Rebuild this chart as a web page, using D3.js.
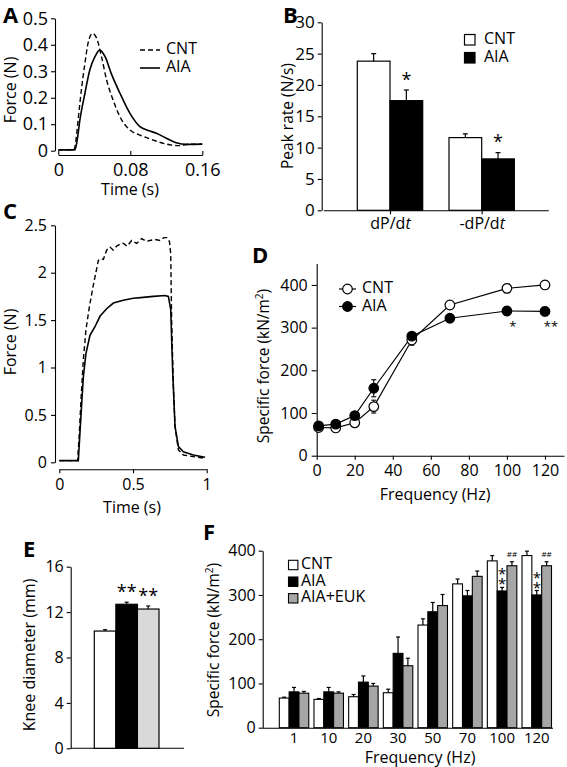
<!DOCTYPE html>
<html><head><meta charset="utf-8">
<script src="https://cdn.jsdelivr.net/npm/d3@7"></script>
<style>
body{margin:0;background:#fff}
text{font-family:"Open Sans",sans-serif;fill:#000}
</style>
</head><body>
<svg id="c" width="567" height="767"></svg>
<script>
// ---------- DATA ----------
// Panel A: twitch traces [time (s), force (N)]
const aCNT = [[0,0.003],[0.0174,0.003],[0.0196,0.04],[0.022,0.116],[0.026,0.24],[0.0296,0.33],[0.033,0.405],[0.038,0.443],[0.0426,0.425],[0.048,0.355],[0.0537,0.267],[0.061,0.19],[0.0685,0.128],[0.0796,0.078],[0.0907,0.059],[0.1056,0.04],[0.12,0.025],[0.135,0.019],[0.146,0.025],[0.16,0.025]];
const aAIA = [[0,0.003],[0.0185,0.003],[0.021,0.04],[0.024,0.116],[0.0296,0.217],[0.035,0.305],[0.0407,0.355],[0.046,0.38],[0.052,0.355],[0.059,0.29],[0.0685,0.217],[0.0796,0.141],[0.0907,0.091],[0.1,0.076],[0.109,0.066],[0.12,0.047],[0.131,0.03],[0.1426,0.024],[0.16,0.025]];
const aYTicks = [0,0.1,0.2,0.3,0.4,0.5];
const aXTicks = [0,0.08,0.16];

// Panel B: peak rate (N/s)
const bCats = ["dP/dt","-dP/dt"];
const bCNT = [23.8, 11.6];
const bCNTerr = [1.2, 0.6];
const bAIA = [17.5, 8.2];
const bAIAerr = [1.7, 1.0];
const bYTicks = [0,5,10,15,20,25,30];

// Panel C: tetanic traces [time (s), force (N)]
const cCNT = [[0,0.018],[0.124,0.018],[0.136,0.31],[0.147,0.66],[0.163,1.08],[0.181,1.40],[0.204,1.64],[0.231,1.87],[0.265,2.13],[0.282,2.15],[0.299,2.14],[0.322,2.24],[0.344,2.27],[0.365,2.24],[0.389,2.28],[0.41,2.3],[0.434,2.31],[0.46,2.28],[0.491,2.34],[0.525,2.31],[0.559,2.36],[0.59,2.33],[0.615,2.34],[0.65,2.35],[0.683,2.34],[0.71,2.37],[0.729,2.37],[0.747,2.33],[0.756,2.20],[0.762,1.50],[0.774,0.80],[0.785,0.38],[0.808,0.13],[0.842,0.077],[0.909,0.06],[0.989,0.042]];
const cAIA = [[0,0.018],[0.129,0.018],[0.14,0.31],[0.152,0.62],[0.163,0.90],[0.181,1.15],[0.208,1.34],[0.242,1.43],[0.276,1.54],[0.321,1.62],[0.367,1.68],[0.434,1.71],[0.502,1.73],[0.57,1.74],[0.638,1.75],[0.717,1.76],[0.74,1.75],[0.756,1.61],[0.769,0.97],[0.785,0.38],[0.808,0.165],[0.842,0.11],[0.909,0.077],[0.989,0.053]];
const cYTicks = [0,0.5,1,1.5,2,2.5];
const cXTicks = [0,0.5,1];

// Panel D: force-frequency (kN/m2)
const dFreq = [1,10,20,30,50,70,100,120];
const dCNT = [66,65,77,115,271,353,392,400];
const dCNTerr = [5,5,5,15,12,8,10,10];
const dAIA = [70,74,94,158,280,322,339,338];
const dAIAerr = [6,5,6,20,8,9,10,10];
const dYTicks = [0,100,200,300,400];
const dXTicks = [0,20,40,60,80,100,120];
const dStars = [[100,"*"],[120,"**"]];

// Panel E: knee diameter (mm)
const eGroups = ["CNT","AIA","AIA+EUK"];
const eVals = [10.33, 12.69, 12.27];
const eErr = [0.12, 0.18, 0.27];
const eYTicks = [0,4,8,12,16];

// Panel F: specific force (kN/m2)
const fFreq = ["1","10","20","30","50","70","100","120"];
const fCNT = [67,64,70,79,232,325,377,389];
const fCNTerr = [2,2,5,8,14,11,12,10];
const fAIA = [81,81,103,168,262,298,309,300];
const fAIAerr = [10,10,14,37,21,12,8,10];
const fEUK = [78,78,94,140,276,342,366,366];
const fEUKerr = [4,3,6,17,25,12,9,9];
const fYTicks = [0,100,200,300,400];
const fSeries = ["CNT","AIA","AIA+EUK"];

// ---------- DRAW ----------
const svg = d3.select("#c");
const BLACK = "#000", GRAY_E = "#d9d9d9", GRAY_F = "#a6a6a6";

function styleAxis(g, fs){
  g.selectAll("path.domain").attr("stroke", "#000").attr("stroke-width", 1.1);
  g.selectAll(".tick line").attr("stroke", "#000").attr("stroke-width", 1.1);
  g.selectAll(".tick text").attr("font-size", fs).attr("font-family", "Open Sans, sans-serif").attr("fill","#000");
  return g;
}
const numFmt = d => (d === 0 ? "0" : String(d));
function label(t, x, y, opt={}){
  const el = svg.append("text").attr("x", x).attr("y", y).text(t)
    .attr("font-size", opt.fs || 15).attr("text-anchor", opt.anchor || "middle")
    .attr("dominant-baseline", opt.base || "middle");
  if (opt.rot) el.attr("transform", `rotate(-90,${x},${y})`);
  return el;
}
function rotLabelSup(x, y, main, sup, tail, fs){
  const t = svg.append("text").attr("transform", `translate(${x},${y}) rotate(-90)`)
    .attr("text-anchor","middle").attr("dominant-baseline","middle").attr("font-size", fs);
  t.append("tspan").text(main);
  t.append("tspan").text(sup).attr("font-size", fs*0.65).attr("dy", -fs*0.35);
  t.append("tspan").text(tail).attr("dy", fs*0.35);
}
function panelLetter(t, x, y){
  svg.append("text").attr("x", x).attr("y", y).text(t)
    .attr("font-family", "Liberation Sans, Arial, sans-serif")
    .attr("font-weight", "bold").attr("font-size", 22);
}
function errBar(g, x, y1, y2, cap){
  g.append("line").attr("x1",x).attr("x2",x).attr("y1",y1).attr("y2",y2).attr("stroke","#000").attr("stroke-width",1.2);
  g.append("line").attr("x1",x-cap).attr("x2",x+cap).attr("y1",y2).attr("y2",y2).attr("stroke","#000").attr("stroke-width",1.2);
}

// ===== Panel A =====
{
  const x = d3.scaleLinear().domain([0,0.16]).range([58.3,202.3]);
  const y = d3.scaleLinear().domain([0,0.5]).range([150.7,18.3]);
  const g = svg.append("g");
  styleAxis(g.append("g").attr("transform","translate(55,0)")
    .call(d3.axisLeft(y).tickValues(aYTicks).tickFormat(numFmt).tickSize(4).tickSizeOuter(0).tickPadding(3)), 18);
  styleAxis(g.append("g").attr("transform","translate(0,155)")
    .call(d3.axisBottom(x).tickValues(aXTicks).tickFormat(numFmt).tickSize(-4).tickSizeOuter(0).tickPadding(8)), 18);
  const line = d3.line().x(d=>x(d[0])).y(d=>y(d[1])).curve(d3.curveMonotoneX);
  g.append("path").datum(aCNT).attr("d",line).attr("fill","none").attr("stroke","#000").attr("stroke-width",1.4).attr("stroke-dasharray","5,3");
  g.append("path").datum(aAIA).attr("d",line).attr("fill","none").attr("stroke","#000").attr("stroke-width",1.6);
  g.append("line").attr("x1",140).attr("x2",160).attr("y1",50).attr("y2",50).attr("stroke","#000").attr("stroke-width",1.4).attr("stroke-dasharray","5,3");
  g.append("line").attr("x1",140).attr("x2",160).attr("y1",68).attr("y2",68).attr("stroke","#000").attr("stroke-width",1.6);
  label("CNT",166,50,{anchor:"start",fs:16});
  label("AIA",166,68,{anchor:"start",fs:16});
  label("Force (N)",11.5,90,{rot:true,fs:16});
  label("Time (s)",130,191,{fs:16});
  panelLetter("A",3,23);
}

// ===== Panel B =====
{
  const y = d3.scaleLinear().domain([0,30]).range([210.3,22.3]);
  const x = d3.scalePoint().domain(bCats).range([323.35,548.35]).padding(0.727);
  const bw = 32.7;
  const g = svg.append("g");
  styleAxis(g.append("g").attr("transform","translate(321.7,0)")
    .call(d3.axisLeft(y).tickValues(bYTicks).tickFormat(numFmt).tickSize(4).tickSizeOuter(0).tickPadding(3)), 17);
  const xa = styleAxis(g.append("g").attr("transform","translate(0,210.3)")
    .call(d3.axisBottom(x).tickSize(4).tickSizeOuter(0).tickPadding(3)), 16);
  xa.selectAll(".tick text").each(function(d){
    const t = d3.select(this); t.text("");
    t.append("tspan").text(d.replace("dt","d"));
    t.append("tspan").text("t").attr("font-style","italic");
  });
  bCats.forEach((c,i)=>{
    const cx = x(c);
    g.append("rect").attr("x",cx-bw).attr("width",bw).attr("y",y(bCNT[i])).attr("height",y(0)-y(bCNT[i])).attr("fill","#fff").attr("stroke","#000").attr("stroke-width",1.2);
    g.append("rect").attr("x",cx).attr("width",bw).attr("y",y(bAIA[i])).attr("height",y(0)-y(bAIA[i])).attr("fill",BLACK).attr("stroke","#000").attr("stroke-width",1.2);
    errBar(g, cx-bw/2, y(bCNT[i]), y(bCNT[i]+bCNTerr[i]), 2.5);
    errBar(g, cx+bw/2, y(bAIA[i]), y(bAIA[i]+bAIAerr[i]), 2.5);
    label("*", cx+bw/2, y(bAIA[i]+bAIAerr[i])-9, {fs:18});
  });
  g.append("rect").attr("x",464.5).attr("y",34.5).attr("width",10.5).attr("height",10.5).attr("fill","#fff").attr("stroke","#000").attr("stroke-width",1.2);
  g.append("rect").attr("x",464.5).attr("y",52.5).attr("width",10.5).attr("height",10.5).attr("fill","#000").attr("stroke","#000").attr("stroke-width",1.2);
  label("CNT",484,40,{anchor:"start",fs:16});
  label("AIA",484,58,{anchor:"start",fs:16});
  label("Peak rate (N/s)",288.5,116,{rot:true,fs:15.5});
  panelLetter("B",283,23);
}

// ===== Panel C =====
{
  const x = d3.scaleLinear().domain([0,1]).range([59.3,206.7]);
  const y = d3.scaleLinear().domain([0,2.5]).range([462.3,225.3]);
  const g = svg.append("g");
  styleAxis(g.append("g").attr("transform","translate(55,0)")
    .call(d3.axisLeft(y).tickValues(cYTicks).tickFormat(numFmt).tickSize(4).tickSizeOuter(0).tickPadding(4)), 16);
  styleAxis(g.append("g").attr("transform","translate(0,469.3)")
    .call(d3.axisBottom(x).tickValues(cXTicks).tickFormat(numFmt).tickSize(4).tickSizeOuter(0).tickPadding(5)), 16);
  const line = d3.line().x(d=>x(d[0])).y(d=>y(d[1]));
  g.append("path").datum(cCNT).attr("d",line).attr("fill","none").attr("stroke","#000").attr("stroke-width",1.4).attr("stroke-dasharray","5,3");
  g.append("path").datum(cAIA).attr("d",line).attr("fill","none").attr("stroke","#000").attr("stroke-width",1.6);
  label("Force (N)",11.5,342,{rot:true,fs:16});
  label("Time (s)",132,509,{fs:16});
  panelLetter("C",3,219);
}

// ===== Panel D =====
{
  const x = d3.scaleLinear().domain([0,130]).range([316.7,564]);
  const y = d3.scaleLinear().domain([0,450]).range([455.7,263.6]);
  const g = svg.append("g");
  styleAxis(g.append("g").attr("transform","translate(316.7,0)")
    .call(d3.axisLeft(y).tickValues(dYTicks).tickFormat(numFmt).tickSize(5).tickSizeOuter(0).tickPadding(4)), 16);
  styleAxis(g.append("g").attr("transform","translate(0,455.7)")
    .call(d3.axisBottom(x).tickValues(dXTicks).tickFormat(numFmt).tickSize(4).tickSizeOuter(0).tickPadding(5)), 16);
  const series = [[dCNT,dCNTerr,"#fff"],[dAIA,dAIAerr,"#000"]];
  const line = d3.line().x((d,i)=>x(dFreq[i])).y(d=>y(d));
  series.forEach(([v])=>{
    g.append("path").datum(v).attr("d",line).attr("fill","none").attr("stroke","#000").attr("stroke-width",1.2);
  });
  series.forEach(([v,e])=>{
    v.forEach((d,i)=>{
      g.append("line").attr("x1",x(dFreq[i])).attr("x2",x(dFreq[i])).attr("y1",y(d-e[i])).attr("y2",y(d+e[i])).attr("stroke","#000").attr("stroke-width",1.1);
      [d-e[i],d+e[i]].forEach(b=>g.append("line").attr("x1",x(dFreq[i])-2.5).attr("x2",x(dFreq[i])+2.5).attr("y1",y(b)).attr("y2",y(b)).attr("stroke","#000").attr("stroke-width",1.1));
    });
  });
  series.forEach(([v,,fill])=>{
    g.selectAll(null).data(v).enter().append("circle")
      .attr("cx",(d,i)=>x(dFreq[i])).attr("cy",d=>y(d)).attr("r",4.8)
      .attr("fill",fill).attr("stroke","#000").attr("stroke-width",1.2);
  });
  dStars.forEach(([f,s])=>label(s, x(f)+6, 328, {fs:13}).attr("fill","#333"));
  g.append("line").attr("x1",339).attr("x2",356).attr("y1",289).attr("y2",289).attr("stroke","#000").attr("stroke-width",1.2);
  g.append("circle").attr("cx",347.5).attr("cy",289).attr("r",4.8).attr("fill","#fff").attr("stroke","#000").attr("stroke-width",1.2);
  g.append("line").attr("x1",339).attr("x2",356).attr("y1",306.5).attr("y2",306.5).attr("stroke","#000").attr("stroke-width",1.2);
  g.append("circle").attr("cx",347.5).attr("cy",306.5).attr("r",4.8).attr("fill","#000").attr("stroke","#000").attr("stroke-width",1.2);
  label("CNT",362,289,{anchor:"start",fs:16});
  label("AIA",362,306.5,{anchor:"start",fs:16});
  rotLabelSup(265, 366, "Specific force (kN/m", "2", ")", 15.5);
  label("Frequency (Hz)",435,496,{fs:16});
  panelLetter("D",252,263);
}

// ===== Panel E =====
{
  const y = d3.scaleLinear().domain([0,16]).range([748.3,566.7]);
  const x = d3.scaleBand().domain(eGroups).range([94.3,159]).paddingInner(0);
  const fills = ["#fff","#000",GRAY_E];
  const g = svg.append("g");
  styleAxis(g.append("g").attr("transform","translate(70.7,0)")
    .call(d3.axisLeft(y).tickValues(eYTicks).tickFormat(numFmt).tickSize(4).tickSizeOuter(0).tickPadding(3)), 16);
  g.append("line").attr("x1",70.7).attr("x2",184).attr("y1",748.3).attr("y2",748.3).attr("stroke","#000").attr("stroke-width",1.1);
  eGroups.forEach((k,i)=>{
    g.append("rect").attr("x",x(k)).attr("width",x.bandwidth()).attr("y",y(eVals[i])).attr("height",y(0)-y(eVals[i])).attr("fill",fills[i]).attr("stroke","#000").attr("stroke-width",1.2);
    errBar(g, x(k)+x.bandwidth()/2, y(eVals[i]), y(eVals[i]+eErr[i]), 2);
    if (i>0) label("**", x(k)+x.bandwidth()/2, y(eVals[i]+eErr[i])-9, {fs:18});
  });
  label("Knee diameter (mm)",31,655,{rot:true,fs:16});
  panelLetter("E",23,557);
}

// ===== Panel F =====
{
  const y = d3.scaleLinear().domain([0,400]).range([727.7,550.7]);
  const x0 = d3.scaleBand().domain(fFreq).range([276.7,554.1]).paddingInner(0.15).paddingOuter(0.075);
  const x1 = d3.scaleBand().domain(fSeries).range([0,x0.bandwidth()]);
  const vals = [fCNT,fAIA,fEUK], errs = [fCNTerr,fAIAerr,fEUKerr];
  const fills = ["#fff","#000",GRAY_F];
  const g = svg.append("g");
  styleAxis(g.append("g").attr("transform","translate(262.7,0)")
    .call(d3.axisLeft(y).tickValues(fYTicks).tickFormat(numFmt).tickSize(4).tickSizeOuter(0).tickPadding(3)), 16);
  const xa = styleAxis(g.append("g").attr("transform","translate(0,727.7)")
    .call(d3.axisBottom(x0).tickSize(0).tickSizeOuter(0).tickPadding(5)), 15);
  xa.select("path.domain").attr("d","M262.7,0.5H553");
  fFreq.forEach((f,j)=>{
    fSeries.forEach((s,k)=>{
      const bx = x0(f)+x1(s);
      g.append("rect").attr("x",bx).attr("width",x1.bandwidth()).attr("y",y(vals[k][j])).attr("height",y(0)-y(vals[k][j])).attr("fill",fills[k]).attr("stroke","#000").attr("stroke-width",1.1);
      errBar(g, bx+x1.bandwidth()/2, y(vals[k][j]), y(vals[k][j]+errs[k][j]), 2);
    });
  });
  ["100","120"].forEach(f=>{
    const j = fFreq.indexOf(f);
    const cx = x0(f)+x1("AIA")+x1.bandwidth()/2;
    const top = y(fAIA[j]+fAIAerr[j]);
    const st = svg.append("text").attr("font-size",15).attr("text-anchor","middle").attr("dominant-baseline","middle");
    st.append("tspan").attr("x",cx).attr("y",top-12).text("*");
    st.append("tspan").attr("x",cx).attr("y",top-2).text("*");
    const gx = x0(f)+x1("AIA+EUK")+x1.bandwidth()/2;
    label("##", gx, y(fEUK[j]+fEUKerr[j])-7, {fs:8}).attr("font-family","DejaVu Serif, serif");
  });
  const leg = [["CNT","#fff",565],["AIA","#000",581.7],["AIA+EUK",GRAY_F,598.3]];
  const lt = svg.append("text").attr("font-size",16).attr("dominant-baseline","middle");
  leg.forEach(([t,c,yy])=>{
    g.append("rect").attr("x",288.5).attr("y",yy-4.7).attr("width",9.4).attr("height",9.4).attr("fill",c).attr("stroke","#000").attr("stroke-width",1.1);
    lt.append("tspan").attr("x",301).attr("y",yy).text(t);
  });
  rotLabelSup(215, 640, "Specific force (kN/m", "2", ")", 15.5);
  label("Frequency (Hz)",420,759,{fs:16});
  panelLetter("F",203,540);
}
</script>
</body></html>
